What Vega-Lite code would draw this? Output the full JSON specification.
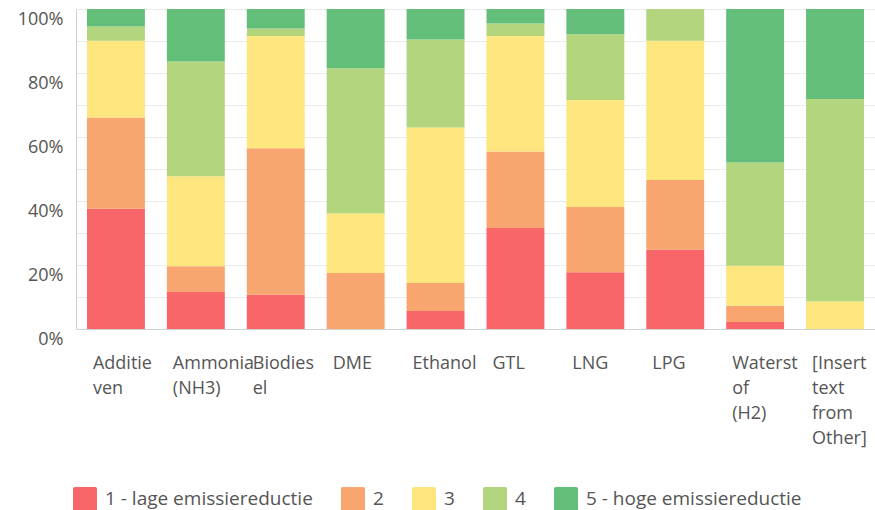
{
  "$schema": "https://vega.github.io/schema/vega-lite/v6.json",
  "width": 799,
  "height": 320,
  "autosize": {"type": "none"},
  "padding": {"left": 76, "top": 9, "right": 0, "bottom": 181},
  "config": {"view": {"stroke": null}, "font": "Open Sans"},
  "data": {
    "values": [
      {"brandstof": "Additieven", "niveau": "1 - lage emissiereductie", "pct": 37.6},
      {"brandstof": "Additieven", "niveau": "2", "pct": 28.5},
      {"brandstof": "Additieven", "niveau": "3", "pct": 24.0},
      {"brandstof": "Additieven", "niveau": "4", "pct": 4.4},
      {"brandstof": "Additieven", "niveau": "5 - hoge emissiereductie", "pct": 5.5},
      {"brandstof": "Ammonia (NH3)", "niveau": "1 - lage emissiereductie", "pct": 11.6},
      {"brandstof": "Ammonia (NH3)", "niveau": "2", "pct": 8.0},
      {"brandstof": "Ammonia (NH3)", "niveau": "3", "pct": 28.1},
      {"brandstof": "Ammonia (NH3)", "niveau": "4", "pct": 35.9},
      {"brandstof": "Ammonia (NH3)", "niveau": "5 - hoge emissiereductie", "pct": 16.4},
      {"brandstof": "Biodiesel", "niveau": "1 - lage emissiereductie", "pct": 10.7},
      {"brandstof": "Biodiesel", "niveau": "2", "pct": 45.8},
      {"brandstof": "Biodiesel", "niveau": "3", "pct": 35.1},
      {"brandstof": "Biodiesel", "niveau": "4", "pct": 2.3},
      {"brandstof": "Biodiesel", "niveau": "5 - hoge emissiereductie", "pct": 6.1},
      {"brandstof": "DME", "niveau": "1 - lage emissiereductie", "pct": 0},
      {"brandstof": "DME", "niveau": "2", "pct": 17.5},
      {"brandstof": "DME", "niveau": "3", "pct": 18.6},
      {"brandstof": "DME", "niveau": "4", "pct": 45.4},
      {"brandstof": "DME", "niveau": "5 - hoge emissiereductie", "pct": 18.5},
      {"brandstof": "Ethanol", "niveau": "1 - lage emissiereductie", "pct": 5.6},
      {"brandstof": "Ethanol", "niveau": "2", "pct": 8.8},
      {"brandstof": "Ethanol", "niveau": "3", "pct": 48.6},
      {"brandstof": "Ethanol", "niveau": "4", "pct": 27.5},
      {"brandstof": "Ethanol", "niveau": "5 - hoge emissiereductie", "pct": 9.5},
      {"brandstof": "GTL", "niveau": "1 - lage emissiereductie", "pct": 31.6},
      {"brandstof": "GTL", "niveau": "2", "pct": 23.9},
      {"brandstof": "GTL", "niveau": "3", "pct": 36.1},
      {"brandstof": "GTL", "niveau": "4", "pct": 3.9},
      {"brandstof": "GTL", "niveau": "5 - hoge emissiereductie", "pct": 4.5},
      {"brandstof": "LNG", "niveau": "1 - lage emissiereductie", "pct": 17.7},
      {"brandstof": "LNG", "niveau": "2", "pct": 20.4},
      {"brandstof": "LNG", "niveau": "3", "pct": 33.5},
      {"brandstof": "LNG", "niveau": "4", "pct": 20.5},
      {"brandstof": "LNG", "niveau": "5 - hoge emissiereductie", "pct": 7.9},
      {"brandstof": "LPG", "niveau": "1 - lage emissiereductie", "pct": 24.8},
      {"brandstof": "LPG", "niveau": "2", "pct": 21.8},
      {"brandstof": "LPG", "niveau": "3", "pct": 43.5},
      {"brandstof": "LPG", "niveau": "4", "pct": 9.9},
      {"brandstof": "LPG", "niveau": "5 - hoge emissiereductie", "pct": 0},
      {"brandstof": "Waterstof (H2)", "niveau": "1 - lage emissiereductie", "pct": 2.2},
      {"brandstof": "Waterstof (H2)", "niveau": "2", "pct": 5.1},
      {"brandstof": "Waterstof (H2)", "niveau": "3", "pct": 12.5},
      {"brandstof": "Waterstof (H2)", "niveau": "4", "pct": 32.2},
      {"brandstof": "Waterstof (H2)", "niveau": "5 - hoge emissiereductie", "pct": 48.0},
      {"brandstof": "[Insert text from Other]", "niveau": "1 - lage emissiereductie", "pct": 0},
      {"brandstof": "[Insert text from Other]", "niveau": "2", "pct": 0},
      {"brandstof": "[Insert text from Other]", "niveau": "3", "pct": 8.6},
      {"brandstof": "[Insert text from Other]", "niveau": "4", "pct": 63.3},
      {"brandstof": "[Insert text from Other]", "niveau": "5 - hoge emissiereductie", "pct": 28.1}
    ]
  },
  "mark": {"type": "bar"},
  "encoding": {
    "x": {
      "field": "brandstof",
      "type": "nominal",
      "sort": null,
      "scale": {"paddingInner": 0.275, "paddingOuter": 0.1375},
      "axis": {
        "title": null,
        "labelAngle": 0,
        "labelAlign": "left",
        "labelBaseline": "top",
        "labelOffset": -23,
        "labelExpr": "datum.value == 'Additieven' ? ['Additie','ven'] : datum.value == 'Ammonia (NH3)' ? ['Ammonia','(NH3)'] : datum.value == 'Biodiesel' ? ['Biodies','el'] : datum.value == 'Waterstof (H2)' ? ['Waterst','of','(H2)'] : datum.value == '[Insert text from Other]' ? ['[Insert','text','from','Other]'] : datum.value",
        "labelFontSize": 18,
        "labelColor": "#555555",
        "labelLineHeight": 25,
        "labelPadding": 25,
        "labelOverlap": false,
        "labelLimit": 0,
        "ticks": false,
        "tickSize": 0,
        "domainColor": "#d2d2d2",
        "grid": false
      }
    },
    "y": {
      "field": "pct",
      "type": "quantitative",
      "stack": "normalize",
      "scale": {"domain": [0, 1], "nice": false},
      "axis": {
        "title": null,
        "values": [0, 0.1, 0.2, 0.3, 0.4, 0.5, 0.6, 0.7, 0.8, 0.9, 1],
        "labelExpr": "round(datum.value * 10) % 2 == 0 ? format(datum.value, '.0%') : ''",
        "labelFontSize": 18,
        "labelColor": "#555555",
        "labelOffset": 10,
        "labelPadding": 13,
        "labelOverlap": false,
        "ticks": false,
        "tickSize": 0,
        "domainColor": "#d2d2d2",
        "gridColor": "#ebebeb"
      }
    },
    "color": {
      "field": "niveau",
      "type": "nominal",
      "scale": {
        "domain": ["1 - lage emissiereductie", "2", "3", "4", "5 - hoge emissiereductie"],
        "range": ["#F8666A", "#F9A570", "#FDE67D", "#B3D57E", "#63BE7A"]
      },
      "legend": {
        "orient": "none",
        "legendX": -3,
        "legendY": 478,
        "direction": "horizontal",
        "title": null,
        "padding": 0,
        "labelFontSize": 19,
        "labelColor": "#555555",
        "labelOffset": 8,
        "labelLimit": 0,
        "columnPadding": 28,
        "symbolType": "M -0.85 -1 H 0.85 Q 1 -1 1 -0.85 V 0.85 Q 1 1 0.85 1 H -0.85 Q -1 1 -1 0.85 V -0.85 Q -1 -1 -0.85 -1 Z",
        "symbolSize": 576,
        "symbolStrokeWidth": 0,
        "symbolOpacity": 1
      }
    },
    "order": {"field": "niveau", "sort": "ascending"}
  }
}
